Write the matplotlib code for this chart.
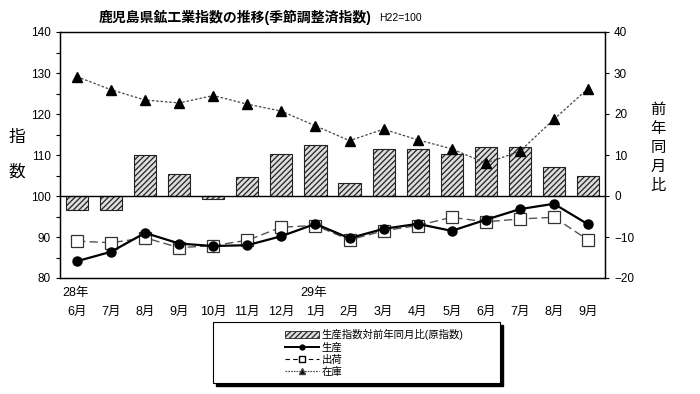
import numpy as np
import matplotlib.pyplot as plt
from matplotlib.patches import Rectangle
from matplotlib.lines import Line2D
from matplotlib.ticker import MultipleLocator

plt.rcParams['font.family'] = ['Liberation Sans', 'Noto Sans CJK JP']
plt.rcParams['hatch.linewidth'] = 0.9

# データ
months = ['6月', '7月', '8月', '9月', '10月', '11月', '12月', '1月',
          '2月', '3月', '4月', '5月', '6月', '7月', '8月', '9月']
years = {0: '28年', 7: '29年'}
yoy = [-3.4, -3.4, 9.9, 5.4, -0.8, 4.7, 10.3, 12.4,
       3.2, 11.4, 11.4, 10.3, 12.0, 12.0, 7.1, 5.0]
production = [84.1, 86.4, 91.0, 88.4, 87.8, 88.0, 90.2, 93.2,
              89.7, 92.0, 93.2, 91.5, 94.2, 96.8, 98.1, 93.1]
shipments = [89.0, 88.6, 89.8, 87.4, 87.9, 89.2, 92.4, 92.8,
             89.3, 91.5, 92.8, 94.8, 93.7, 94.4, 94.8, 89.3]
inventory = [129.1, 125.9, 123.4, 122.7, 124.5, 122.4, 120.7, 117.1,
             113.5, 116.3, 113.7, 111.5, 108.0, 110.9, 118.7, 126.2]

x = np.arange(len(months))

fig = plt.figure(figsize=(7, 3.94), dpi=100)
ax = fig.add_axes([60 / 700, 1 - 278 / 394, 545 / 700, 246 / 394])
ax2 = ax.twinx()

# 前年同月比の棒（右軸）
ax2.bar(x, yoy, width=0.65, facecolor='#dddddd', edgecolor='#222222',
        hatch='//////', linewidth=0.8, zorder=2)
ax2.set_ylim(-20, 40)
ax2.yaxis.set_major_locator(MultipleLocator(10))
ax2.axhline(0, color='black', linewidth=1.0, zorder=3)

# 指数の折れ線（左軸）
ax.set_zorder(ax2.get_zorder() + 1)
ax.patch.set_visible(False)
ax.plot(x, production, color='black', linewidth=1.6, marker='o',
        markersize=6.5, zorder=5)
ax.plot(x, shipments, color='#555555', linewidth=1.0, linestyle=(0, (6, 3)),
        marker='s', markersize=8, markerfacecolor='white',
        markeredgecolor='#333333', markeredgewidth=0.9, zorder=4)
ax.plot(x, inventory, color='#444444', linewidth=0.9, linestyle=(0, (2, 1.5)),
        marker='^', markersize=6.5, markerfacecolor='black',
        markeredgecolor='black', zorder=4)
ax.set_ylim(80, 140)
ax.set_xlim(-0.5, len(months) - 0.5)
ax.yaxis.set_major_locator(MultipleLocator(10))
ax.yaxis.set_minor_locator(MultipleLocator(5))

for a in (ax, ax2):
    a.tick_params(axis='y', labelsize=8.5, length=3, width=0.8)
    a.tick_params(axis='y', which='minor', length=3, width=0.8)
    for s in a.spines.values():
        s.set_linewidth(0.9)

# x軸ラベル
ax.set_xticks(x)
ax.set_xticklabels(months, fontsize=9)
ax.tick_params(axis='x', length=0, pad=20)
for i, t in years.items():
    ax.text(i - 0.05, 76.4, t, ha='center', va='center', fontsize=9)

# 軸タイトル
fig.text(17 / 700, 1 - 137 / 394, '指', fontsize=12, ha='center', va='center')
fig.text(17 / 700, 1 - 172 / 394, '数', fontsize=12, ha='center', va='center')
for k, ch in enumerate('前年同月比'):
    fig.text(658 / 700, 1 - (110 + k * 19) / 394, ch, fontsize=11,
             ha='center', va='center')

# タイトル
fig.text(372 / 700, 1 - 17 / 394, '鹿児島県鉱工業指数の推移(季節調整済指数)',
         fontsize=10, fontweight='bold', ha='right', va='center')
fig.text(379 / 700, 1 - 18 / 394, 'H22=100', fontsize=7.5,
         ha='left', va='center')

# 凡例
fig.patches.append(Rectangle((216 / 700, 1 - 386 / 394), 287 / 700, 61 / 394,
                             transform=fig.transFigure, facecolor='black',
                             edgecolor='black', zorder=1))
fig.patches.append(Rectangle((213 / 700, 1 - 383 / 394), 287 / 700, 61 / 394,
                             transform=fig.transFigure, facecolor='white',
                             edgecolor='black', linewidth=0.8, zorder=2))
handles = [
    Rectangle((0, 0), 1, 1, facecolor='#dddddd', edgecolor='#222222',
              hatch='//////', linewidth=0.6),
    Line2D([], [], color='black', linewidth=1.4, marker='o', markersize=3.5),
    Line2D([], [], color='black', linewidth=0.8, linestyle=(0, (4, 3)),
           marker='s', markersize=5, markerfacecolor='white'),
    Line2D([], [], color='#444444', linewidth=0.8, linestyle=(0, (1.5, 1)),
           marker='^', markersize=4, markerfacecolor='black'),
]
labels = ['生産指数対前年同月比(原指数)', '生産', '出荷', '在庫']
leg = fig.legend(handles, labels, loc='upper left',
                 bbox_to_anchor=(278 / 700, 1 - 322 / 394), frameon=False,
                 fontsize=7.5, handlelength=3.2, handleheight=0.6,
                 labelspacing=0.2, borderpad=0.2, handletextpad=0.3)
leg.set_zorder(3)

fig.savefig('out.png', dpi=100)
